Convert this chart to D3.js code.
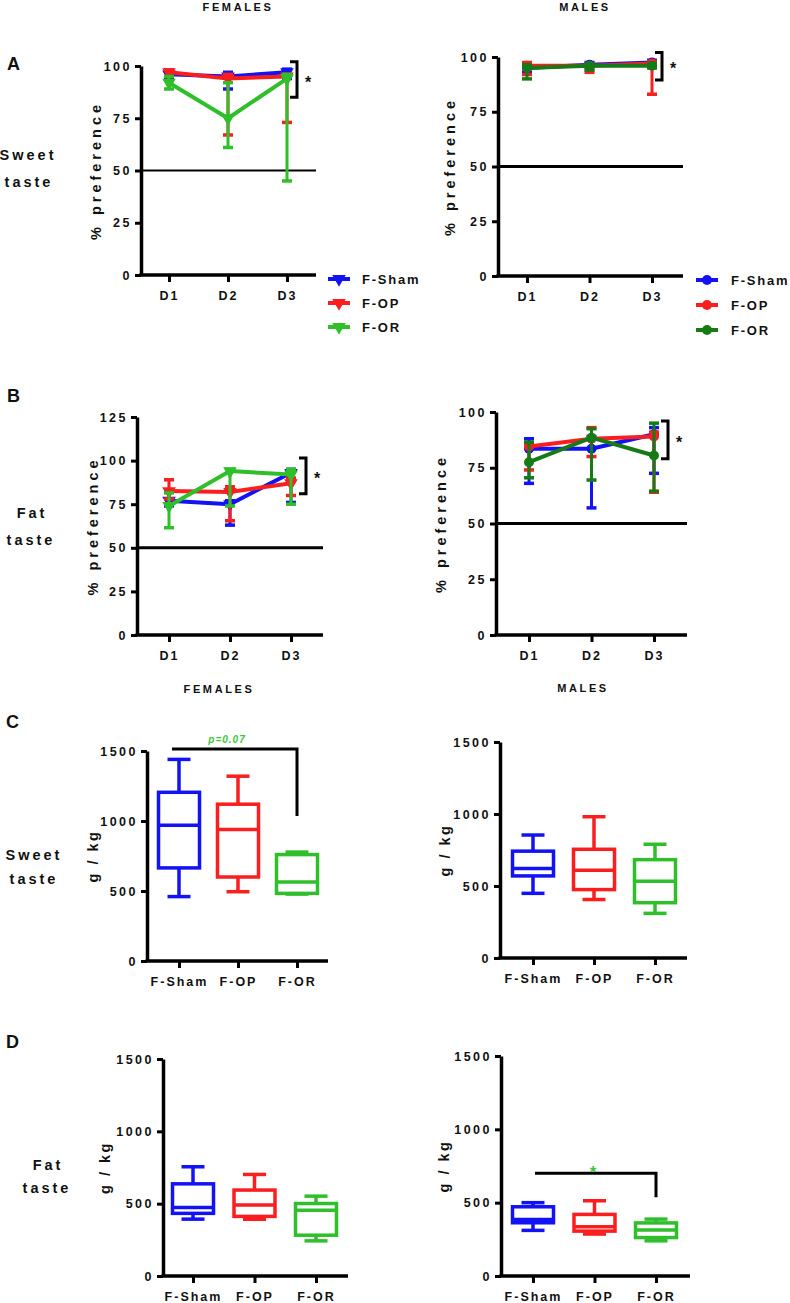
<!DOCTYPE html>
<html><head><meta charset="utf-8">
<script src="https://cdn.jsdelivr.net/npm/d3@7/dist/d3.min.js"></script>
<style>
body{margin:0;background:#fff}
svg{display:block}
text{font-family:Arial,"Liberation Sans",Helvetica,sans-serif;font-weight:bold;fill:#111}
</style>
</head><body>
<svg id="c" width="790" height="1303"></svg>
<script>
// ---------- DATA ----------
const days = ["D1", "D2", "D3"];
const groups = ["F-Sham", "F-OP", "F-OR"];
const pctTicks = [0, 25, 50, 75, 100];
const pctTicksFat = [0, 25, 50, 75, 100, 125];
const gkgTicks = [0, 500, 1000, 1500];

// rows: F-Sham, F-OP, F-OR ; columns: D1, D2, D3 (% preference)
const sweetFemMean = [[96, 95, 97], [97, 94, 95], [92, 75, 94]];
const sweetFemLow  = [[94, 89, 94], [95, 67, 73], [89, 61, 45]];
const sweetFemHigh = [[98, 97, 98.5], [98, 96, 96], [95, 92, 96]];

const sweetMaleMean = [[95, 96.5, 97.5], [96, 96, 97], [95, 96, 96]];
const sweetMaleLow  = [[93, 95, 96], [92, 93, 83], [90, 94, 95]];
const sweetMaleHigh = [[97, 97.5, 98.5], [97.5, 97, 98], [96.5, 97, 97]];

const fatFemMean = [[77, 75, 93], [82.5, 82, 87], [74, 94, 92]];
const fatFemLow  = [[74, 63, 76], [78, 65.5, 80], [61.5, 74, 75]];
const fatFemHigh = [[82, 77, 95], [89, 85, 90], [81.5, 95, 95]];

const fatMaleMean = [[83.5, 83.5, 90], [84.5, 88, 89], [77.5, 88.5, 80.5]];
const fatMaleLow  = [[68, 57, 72.5], [74, 80, 64], [70.5, 69.5, 64.5]];
const fatMaleHigh = [[88, 89, 93], [86, 93, 91], [86.5, 92.5, 95]];

// box plots (g/kg): [min, q1, median, q3, max] for F-Sham, F-OP, F-OR
const sweetFemBox  = [[460, 665, 970, 1205, 1440], [495, 600, 940, 1120, 1320], [478, 483, 565, 760, 778]];
const sweetMaleBox = [[449, 570, 622, 742, 854], [406, 475, 610, 755, 981], [310, 384, 533, 683, 790]];
const fatFemBox    = [[393, 433, 474, 637, 755], [392, 412, 490, 594, 702], [243, 282, 455, 501, 552]];
const fatMaleBox   = [[311, 363, 385, 472, 500], [286, 306, 336, 420, 513], [240, 262, 313, 362, 388]];

// ---------- STYLE ----------
const BLUE = "#1212f5", RED = "#fa1e1e", GREEN = "#2fbf2a", DKGREEN = "#167a16";
const femColors = [BLUE, RED, GREEN];
const maleColors = [BLUE, RED, DKGREEN];
const svg = d3.select("#c");
const FONT = "Arial,'Liberation Sans',sans-serif";

function txt(x, y, s, o = {}) {
  return svg.append("text").attr("x", x).attr("y", y).text(s)
    .attr("font-size", o.size || 12)
    .attr("letter-spacing", o.ls == null ? 1 : o.ls)
    .attr("text-anchor", o.anchor || "start")
    .style("fill", o.fill || "#111")
    .style("font-style", o.italic ? "italic" : "normal");
}

function axes(g, y, ticks, axX, xEnd, x) {
  const ya = g.append("g").attr("transform", `translate(${axX},0)`)
    .call(d3.axisLeft(y).tickValues(ticks).tickFormat(d3.format("d")).tickSize(6).tickSizeOuter(0).tickPadding(3));
  ya.select(".domain").attr("stroke", "#000").attr("stroke-width", 3.5);
  ya.selectAll(".tick line").attr("stroke", "#000").attr("stroke-width", 3);
  ya.selectAll(".tick text").attr("font-size", 12.5).attr("letter-spacing", 2.5)
    .attr("font-family", FONT).attr("font-weight", "bold").style("fill", "#111");
  const y0 = y(0);
  const xa = g.append("g").attr("transform", `translate(0,${y0})`)
    .call(d3.axisBottom(x).tickSize(7).tickSizeOuter(0).tickPadding(9));
  xa.select(".domain").remove();
  xa.selectAll(".tick line").attr("stroke", "#000").attr("stroke-width", 3);
  xa.selectAll(".tick text").attr("font-size", 12.5).attr("letter-spacing", 2)
    .attr("font-family", FONT).attr("font-weight", "bold").style("fill", "#111");
  g.append("line").attr("x1", axX - 1.5).attr("x2", xEnd).attr("y1", y0).attr("y2", y0)
    .attr("stroke", "#000").attr("stroke-width", 3.5);
}

function marker(g, kind, color, cx, cy) {
  if (kind === "tri") {
    g.append("path").attr("d", d3.symbol(d3.symbolTriangle, 80)())
      .attr("transform", `translate(${cx},${cy}) rotate(180)`).attr("fill", color);
  } else {
    g.append("circle").attr("cx", cx).attr("cy", cy).attr("r", 5).attr("fill", color);
  }
}

function linePanel(o) {
  const g = svg.append("g");
  const y = d3.scaleLinear().domain([0, o.max]).range([o.yBot, o.yTop]);
  const x = d3.scalePoint().domain(days).range([o.x0, o.x1]);
  axes(g, y, o.ticks, o.axX, o.xEnd, x);
  // 50% reference line
  g.append("line").attr("x1", o.axX).attr("x2", o.xEnd).attr("y1", y(50)).attr("y2", y(50))
    .attr("stroke", "#000").attr("stroke-width", o.refW || 3);
  const line = d3.line().x((d, i) => x(days[i])).y(d => y(d));
  o.mean.forEach((m, gi) => {
    const col = o.colors[gi];
    const sg = g.append("g");
    m.forEach((v, di) => {
      const cx = x(days[di]);
      const lo = o.low[gi][di], hi = o.high[gi][di];
      sg.append("line").attr("x1", cx).attr("x2", cx).attr("y1", y(lo)).attr("y2", y(hi))
        .attr("stroke", col).attr("stroke-width", 3);
      [lo, hi].forEach(e => sg.append("line").attr("x1", cx - 5).attr("x2", cx + 5)
        .attr("y1", y(e)).attr("y2", y(e)).attr("stroke", col).attr("stroke-width", 3.5));
    });
    sg.append("path").attr("d", line(m)).attr("fill", "none").attr("stroke", col)
      .attr("stroke-width", 4).attr("stroke-linejoin", "round");
    m.forEach((v, di) => marker(sg, o.kind, col, x(days[di]), y(v)));
  });
  // significance bracket
  const bx = x("D3") + o.bOff;
  const b1 = y(o.bTop), b2 = y(o.bBot);
  g.append("path").attr("d", `M${bx},${b1}H${bx + 7}V${b2}H${bx}`)
    .attr("fill", "none").attr("stroke", "#000").attr("stroke-width", 3);
  txt(bx + 18, (b1 + b2) / 2 + 8, "*", { size: 16, ls: 0, anchor: "middle" });
  // y label
  txt(0, 0, "% preference", { size: 14.5, ls: 4, anchor: "middle" })
    .attr("transform", `translate(${o.axX - o.labOff},${(o.yTop + o.yBot) / 2}) rotate(-90)`);
}

function legend(lx, tx, ys, colors, kind) {
  groups.forEach((gname, i) => {
    const g = svg.append("g");
    g.append("line").attr("x1", lx).attr("x2", lx + 22).attr("y1", ys[i]).attr("y2", ys[i])
      .attr("stroke", colors[i]).attr("stroke-width", 4);
    marker(g, kind, colors[i], lx + 11, ys[i]);
    txt(tx, ys[i] + 5, gname, { size: 13, ls: 1.8 });
  });
}

function boxPanel(o) {
  const g = svg.append("g");
  const y = d3.scaleLinear().domain([0, 1500]).range([o.yBot, o.yTop]);
  const x = d3.scalePoint().domain(groups).range([o.x0, o.x1]);
  axes(g, y, gkgTicks, o.axX, o.xEnd, x);
  const bw = 41, cw = 23;
  o.data.forEach((d, i) => {
    const cx = x(groups[i]), col = o.colors[i];
    const [mn, q1, md, q3, mx] = d;
    const s = g.append("g").attr("stroke", col).attr("stroke-width", 3.5).attr("fill", "none");
    s.append("line").attr("x1", cx).attr("x2", cx).attr("y1", y(q3)).attr("y2", y(mx));
    s.append("line").attr("x1", cx).attr("x2", cx).attr("y1", y(q1)).attr("y2", y(mn));
    s.append("line").attr("x1", cx - cw / 2).attr("x2", cx + cw / 2).attr("y1", y(mx)).attr("y2", y(mx));
    s.append("line").attr("x1", cx - cw / 2).attr("x2", cx + cw / 2).attr("y1", y(mn)).attr("y2", y(mn));
    s.append("rect").attr("x", cx - bw / 2).attr("width", bw).attr("y", y(q3)).attr("height", y(q1) - y(q3));
    s.append("line").attr("x1", cx - bw / 2).attr("x2", cx + bw / 2).attr("y1", y(md)).attr("y2", y(md));
  });
  txt(0, 0, "g / kg", { size: 14.5, ls: 2.5, anchor: "middle" })
    .attr("transform", `translate(${o.axX - o.labOff},${(o.yTop + o.yBot) / 2}) rotate(-90)`);
  if (o.sig) {
    const s = o.sig;
    const xa = x(groups[0]) + s.dx, xb = x(groups[2]);
    g.append("path").attr("d", `M${xa},${y(s.top)}H${xb}V${y(s.bot)}`)
      .attr("fill", "none").attr("stroke", "#000").attr("stroke-width", 3);
    txt(s.tx, y(s.top) + s.ty, s.label, { size: s.size, ls: s.ls, anchor: "middle", fill: "#3cc83c", italic: s.italic });
  }
}

// ---------- HEADERS ----------
txt(238, 11, "FEMALES", { size: 11, ls: 2.6, anchor: "middle" });
txt(585, 11, "MALES", { size: 11, ls: 2.6, anchor: "middle" });
txt(219, 693, "FEMALES", { size: 11, ls: 2.6, anchor: "middle" });
txt(583, 692, "MALES", { size: 11, ls: 2.6, anchor: "middle" });
txt(7, 70, "A", { size: 18, ls: 0 });
txt(7, 402, "B", { size: 18, ls: 0 });
txt(6, 728, "C", { size: 18, ls: 0 });
txt(6, 1048, "D", { size: 18, ls: 0 });
txt(28, 160, "Sweet", { size: 14.5, ls: 3, anchor: "middle" });
txt(29, 187, "taste", { size: 14.5, ls: 3, anchor: "middle" });
txt(32, 518, "Fat", { size: 14.5, ls: 3, anchor: "middle" });
txt(31, 545, "taste", { size: 14.5, ls: 3, anchor: "middle" });
txt(34, 860, "Sweet", { size: 14.5, ls: 3, anchor: "middle" });
txt(34, 884, "taste", { size: 14.5, ls: 3, anchor: "middle" });
txt(48, 1170, "Fat", { size: 14.5, ls: 3, anchor: "middle" });
txt(47, 1193, "taste", { size: 14.5, ls: 3, anchor: "middle" });

// ---------- PANELS ----------
linePanel({ axX: 141, yTop: 66, yBot: 275, x0: 169, x1: 287, xEnd: 316, max: 100, ticks: pctTicks,
  mean: sweetFemMean, low: sweetFemLow, high: sweetFemHigh, colors: femColors, kind: "tri",
  refW: 2, bOff: 3, bTop: 102, bBot: 85, labOff: 40 });
linePanel({ axX: 498, yTop: 57, yBot: 276, x0: 527, x1: 652, xEnd: 683, max: 100, ticks: pctTicks,
  mean: sweetMaleMean, low: sweetMaleLow, high: sweetMaleHigh, colors: maleColors, kind: "circ",
  refW: 3, bOff: 3, bTop: 102, bBot: 89.5, labOff: 43 });
legend(328, 362, [279, 303, 327], femColors, "tri");
legend(696, 731, [280, 305, 330], maleColors, "circ");

linePanel({ axX: 137, yTop: 417, yBot: 635, x0: 169, x1: 291, xEnd: 323, max: 125, ticks: pctTicksFat,
  mean: fatFemMean, low: fatFemLow, high: fatFemHigh, colors: femColors, kind: "tri",
  refW: 3, bOff: 8, bTop: 101.5, bBot: 81, labOff: 39 });
linePanel({ axX: 496, yTop: 412, yBot: 635, x0: 529, x1: 654, xEnd: 687, max: 100, ticks: pctTicks,
  mean: fatMaleMean, low: fatMaleLow, high: fatMaleHigh, colors: maleColors, kind: "circ",
  refW: 3, bOff: 7, bTop: 96, bBot: 79, labOff: 50 });

boxPanel({ axX: 147, yTop: 751, yBot: 961, x0: 179, x1: 297, xEnd: 328, data: sweetFemBox,
  colors: [BLUE, RED, GREEN], labOff: 49,
  sig: { dx: -7, top: 1514, bot: 1036, label: "p=0.07", tx: 227, ty: -6, size: 10, ls: 1, italic: true } });
boxPanel({ axX: 500, yTop: 742, yBot: 958, x0: 533, x1: 655, xEnd: 687, data: sweetMaleBox,
  colors: [BLUE, RED, GREEN], labOff: 50 });
boxPanel({ axX: 163, yTop: 1059, yBot: 1276, x0: 193, x1: 316, xEnd: 348, data: fatFemBox,
  colors: [BLUE, RED, GREEN], labOff: 53 });
boxPanel({ axX: 501, yTop: 1056, yBot: 1276, x0: 533, x1: 656, xEnd: 690, data: fatMaleBox,
  colors: [BLUE, RED, GREEN], labOff: 52,
  sig: { dx: 2, top: 700, bot: 537, label: "*", tx: 593, ty: 5, size: 17, ls: 0, italic: false } });
</script>
</body></html>
